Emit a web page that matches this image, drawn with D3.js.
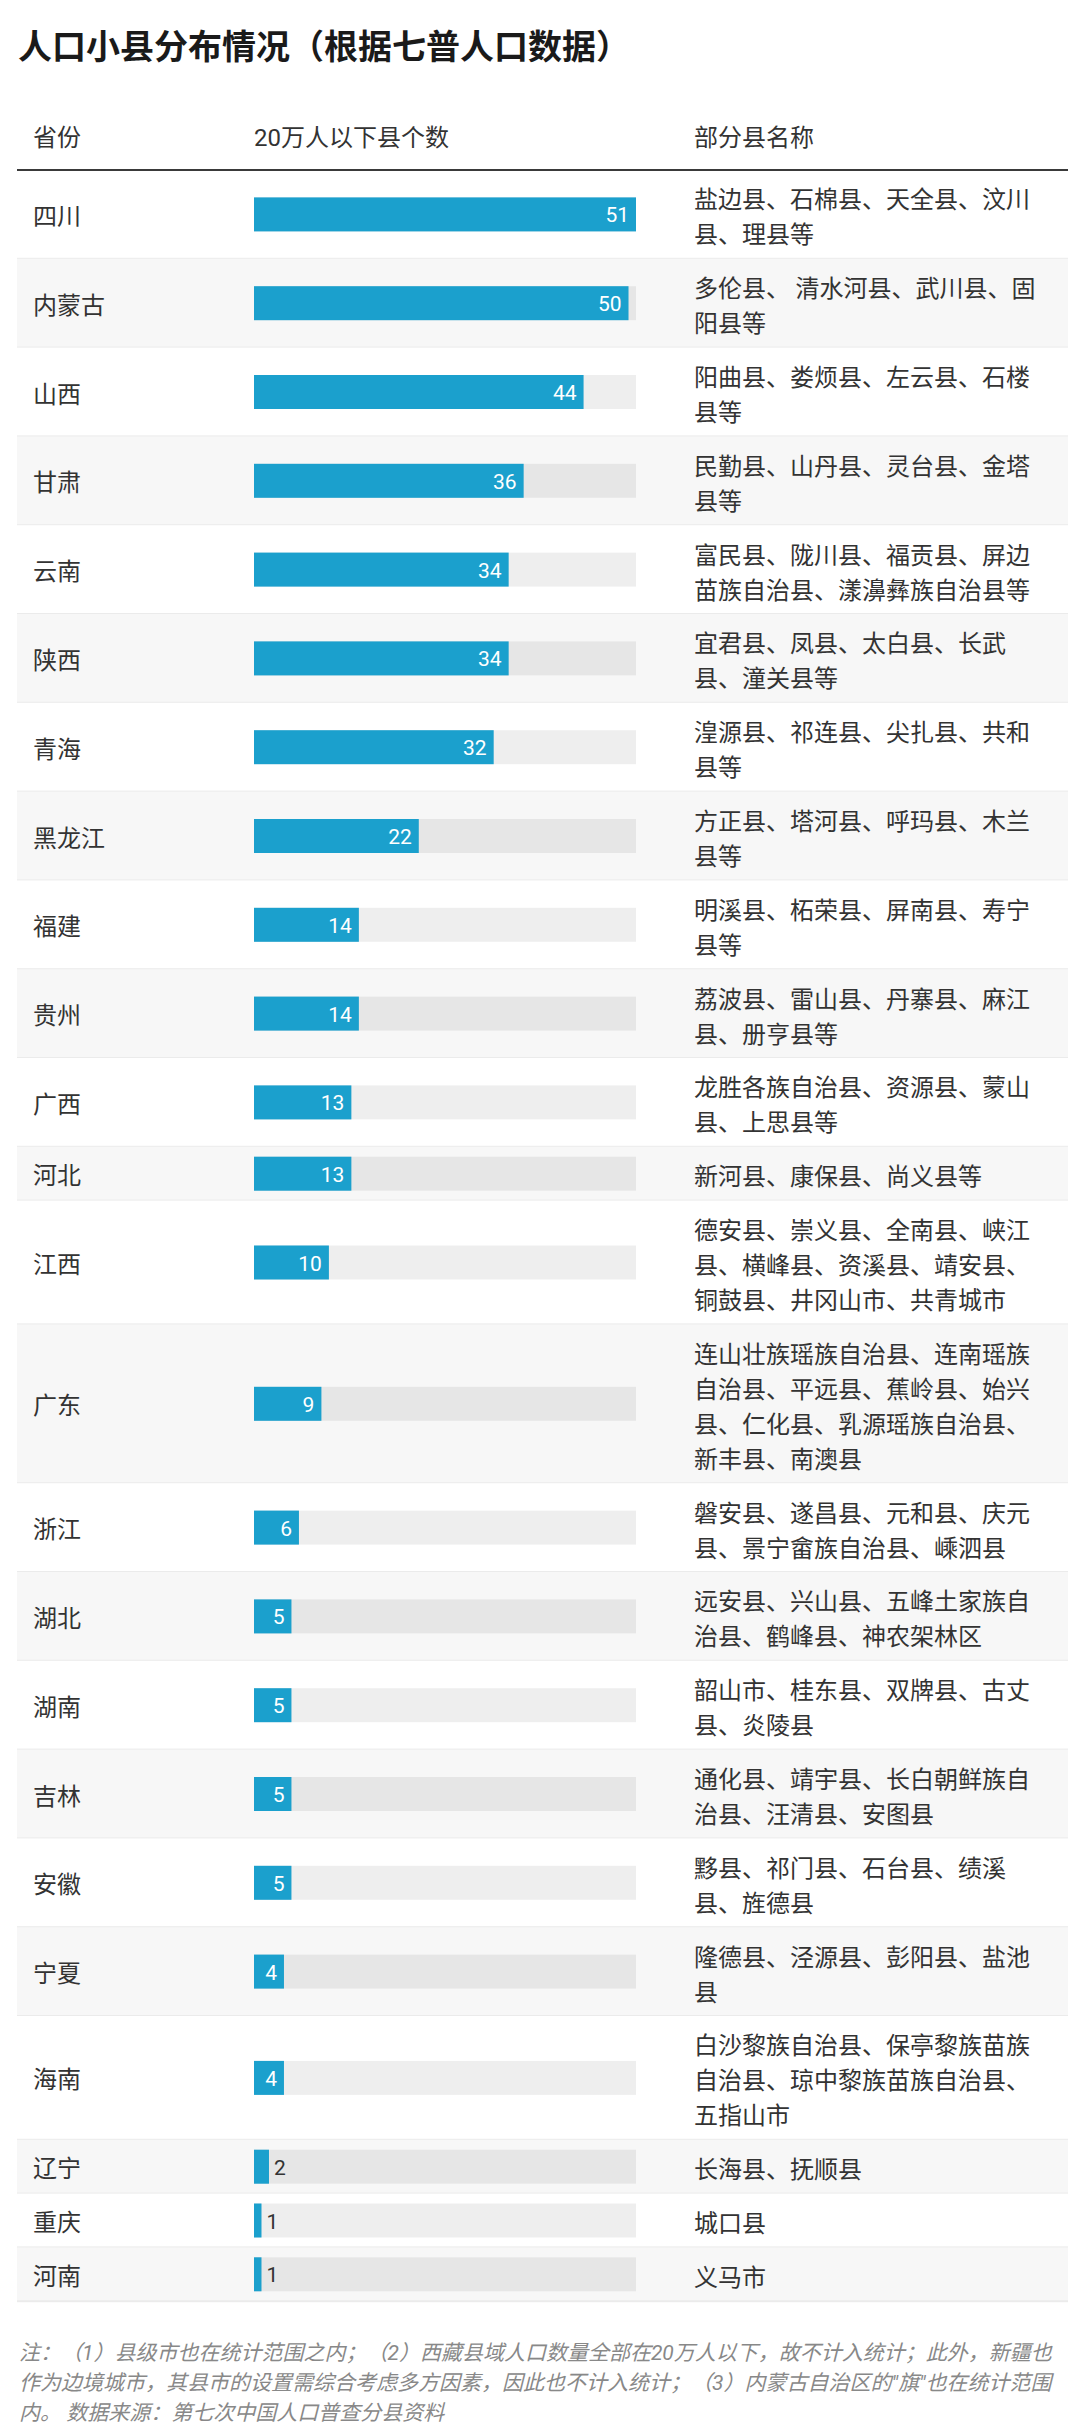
<!DOCTYPE html>
<html>
<head>
<meta charset="utf-8">
<script src="https://cdn.jsdelivr.net/npm/d3@7"></script>
<style>
  html, body { margin: 0; padding: 0; background: #fff; }
  svg { display: block; }
</style>
</head>
<body>
<div id="chart"></div>
<script>
const titleText = "人口小县分布情况（根据七普人口数据）";
const headers = ["省份", "20万人以下县个数", "部分县名称"];
const provinces = ["四川","内蒙古","山西","甘肃","云南","陕西","青海","黑龙江","福建","贵州","广西","河北","江西","广东","浙江","湖北","湖南","吉林","安徽","宁夏","海南","辽宁","重庆","河南"];
const counts = [51,50,44,36,34,34,32,22,14,14,13,13,10,9,6,5,5,5,5,4,4,2,1,1];
const countyNames = [
  "盐边县、石棉县、天全县、汶川县、理县等",
  "多伦县、 清水河县、武川县、固阳县等",
  "阳曲县、娄烦县、左云县、石楼县等",
  "民勤县、山丹县、灵台县、金塔县等",
  "富民县、陇川县、福贡县、屏边苗族自治县、漾濞彝族自治县等",
  "宜君县、凤县、太白县、长武县、潼关县等",
  "湟源县、祁连县、尖扎县、共和县等",
  "方正县、塔河县、呼玛县、木兰县等",
  "明溪县、柘荣县、屏南县、寿宁县等",
  "荔波县、雷山县、丹寨县、麻江县、册亨县等",
  "龙胜各族自治县、资源县、蒙山县、上思县等",
  "新河县、康保县、尚义县等",
  "德安县、崇义县、全南县、峡江县、横峰县、资溪县、靖安县、铜鼓县、井冈山市、共青城市",
  "连山壮族瑶族自治县、连南瑶族自治县、平远县、蕉岭县、始兴县、仁化县、乳源瑶族自治县、新丰县、南澳县",
  "磐安县、遂昌县、元和县、庆元县、景宁畲族自治县、嵊泗县",
  "远安县、兴山县、五峰土家族自治县、鹤峰县、神农架林区",
  "韶山市、桂东县、双牌县、古丈县、炎陵县",
  "通化县、靖宇县、长白朝鲜族自治县、汪清县、安图县",
  "黟县、祁门县、石台县、绩溪县、旌德县",
  "隆德县、泾源县、彭阳县、盐池县",
  "白沙黎族自治县、保亭黎族苗族自治县、琼中黎族苗族自治县、五指山市",
  "长海县、抚顺县",
  "城口县",
  "义马市"
];
const noteLines = [
  "注：（1）县级市也在统计范围之内；（2）西藏县域人口数量全部在20万人以下，故不计入统计；此外，新疆也",
  "作为边境城市，其县市的设置需综合考虑多方因素，因此也不计入统计；（3）内蒙古自治区的\"旗\"也在统计范围",
  "内。 数据来源：第七次中国人口普查分县资料"
];

const W = 1080, H = 2431;
const FONT = "Roboto, 'Noto Sans CJK SC', sans-serif";
const CJK = "'Noto Sans CJK SC', sans-serif";

const svg = d3.select("#chart").append("svg")
  .attr("width", W).attr("height", H)
  .attr("viewBox", `0 0 ${W} ${H}`);

svg.append("rect").attr("width", W).attr("height", H).attr("fill", "#fff");

// Title
svg.append("text")
  .attr("x", 18).attr("y", 44)
  .attr("dominant-baseline", "central")
  .attr("font-family", CJK).attr("font-weight", 700)
  .attr("font-size", 34).attr("fill", "#1a1a1a")
  .text(titleText);

// Columns
const colProv = 33, colBar = 254, colNames = 694;
const barMaxW = 382;
const x = d3.scaleLinear().domain([0, d3.max(counts)]).range([0, barMaxW]);

// Header
const headerX = [colProv, colBar, colNames];
svg.append("g").selectAll("text").data(headers).join("text")
  .attr("x", (d, i) => headerX[i]).attr("y", 138)
  .attr("dominant-baseline", "central")
  .attr("font-family", FONT).attr("font-size", 24).attr("fill", "#333")
  .text(d => d);

const tableL = 17, tableR = 1068;
const headerLineY = 170;

// measure + wrap
const measurer = svg.append("text")
  .attr("font-family", CJK).attr("font-size", 24)
  .attr("x", -1000).attr("y", -1000);
function textW(s) { measurer.text(s); return measurer.node().getComputedTextLength(); }
const noStart = new Set(["、","，","。","；","：","）","！","？","”"]);
function wrap(str, maxW) {
  const chars = Array.from(str);
  const lines = [];
  let cur = "";
  for (const ch of chars) {
    if (cur.length && textW(cur + ch) > maxW) {
      if (noStart.has(ch) && cur.length > 1) {
        const arr = Array.from(cur);
        const last = arr.pop();
        lines.push(arr.join(""));
        cur = last + ch;
      } else {
        lines.push(cur);
        cur = ch;
      }
    } else {
      cur += ch;
    }
  }
  if (cur.length) lines.push(cur);
  return lines;
}
const maxNameW = 352;
const lineH = 35, rowPad = 18.8;

const rows = provinces.map((p, i) => ({
  prov: p, count: counts[i], lines: wrap(countyNames[i], maxNameW), idx: i
}));
measurer.remove();

let yCursor = headerLineY;
rows.forEach(r => {
  r.h = rowPad + lineH * r.lines.length;
  r.y0 = yCursor;
  r.cy = yCursor + r.h / 2;
  yCursor += r.h;
});

const gRows = svg.append("g");
const rowG = gRows.selectAll("g.row").data(rows).join("g").attr("class", "row");

// backgrounds
rowG.append("rect")
  .attr("x", tableL).attr("y", d => d.y0)
  .attr("width", tableR - tableL).attr("height", d => d.h)
  .attr("fill", d => d.idx % 2 === 1 ? "#f7f7f7" : "#ffffff");

// separators
rowG.append("rect")
  .attr("x", tableL).attr("y", d => d.y0 + d.h - 1)
  .attr("width", tableR - tableL).attr("height", 2)
  .attr("fill", "#ebebeb");

// province names
rowG.append("text")
  .attr("x", colProv).attr("y", d => d.cy)
  .attr("dominant-baseline", "central")
  .attr("font-family", CJK).attr("font-size", 24).attr("fill", "#333")
  .text(d => d.prov);

// bar tracks
const barH = 34;
rowG.append("rect")
  .attr("x", colBar).attr("y", d => d.cy - barH / 2)
  .attr("width", x(d3.max(counts))).attr("height", barH)
  .attr("fill", "rgba(0,0,0,0.068)");

// bars
rowG.append("rect")
  .attr("x", colBar).attr("y", d => d.cy - barH / 2)
  .attr("width", d => x(d.count)).attr("height", barH)
  .attr("fill", "#1ba0cd");

// value labels
rowG.append("text")
  .attr("x", d => x(d.count) > 25 ? colBar + x(d.count) - 7 : colBar + x(d.count) + 5)
  .attr("y", d => d.cy + 1)
  .attr("dominant-baseline", "central")
  .attr("text-anchor", d => x(d.count) > 25 ? "end" : "start")
  .attr("font-family", FONT).attr("font-size", 21)
  .attr("fill", d => x(d.count) > 25 ? "#ffffff" : "#333")
  .text(d => d.count);

// county names
rowG.append("text")
  .attr("font-family", CJK).attr("font-size", 24).attr("fill", "#333")
  .each(function(d) {
    const t = d3.select(this);
    const n = d.lines.length;
    d.lines.forEach((ln, k) => {
      t.append("tspan")
        .attr("x", colNames)
        .attr("y", d.cy + (k - (n - 1) / 2) * lineH + 1)
        .attr("dominant-baseline", "central")
        .text(ln);
    });
  });

// header line
svg.append("rect")
  .attr("x", tableL).attr("y", headerLineY - 1)
  .attr("width", tableR - tableL).attr("height", 2)
  .attr("fill", "#3a3a3a");

// footnote
svg.append("g").selectAll("text").data(noteLines).join("text")
  .attr("x", 19).attr("y", (d, i) => 2353 + i * 30)
  .attr("dominant-baseline", "central")
  .attr("font-family", FONT).attr("font-size", 21)
  .attr("font-style", "italic").attr("fill", "#888")
  .text(d => d);
</script>
</body>
</html>
